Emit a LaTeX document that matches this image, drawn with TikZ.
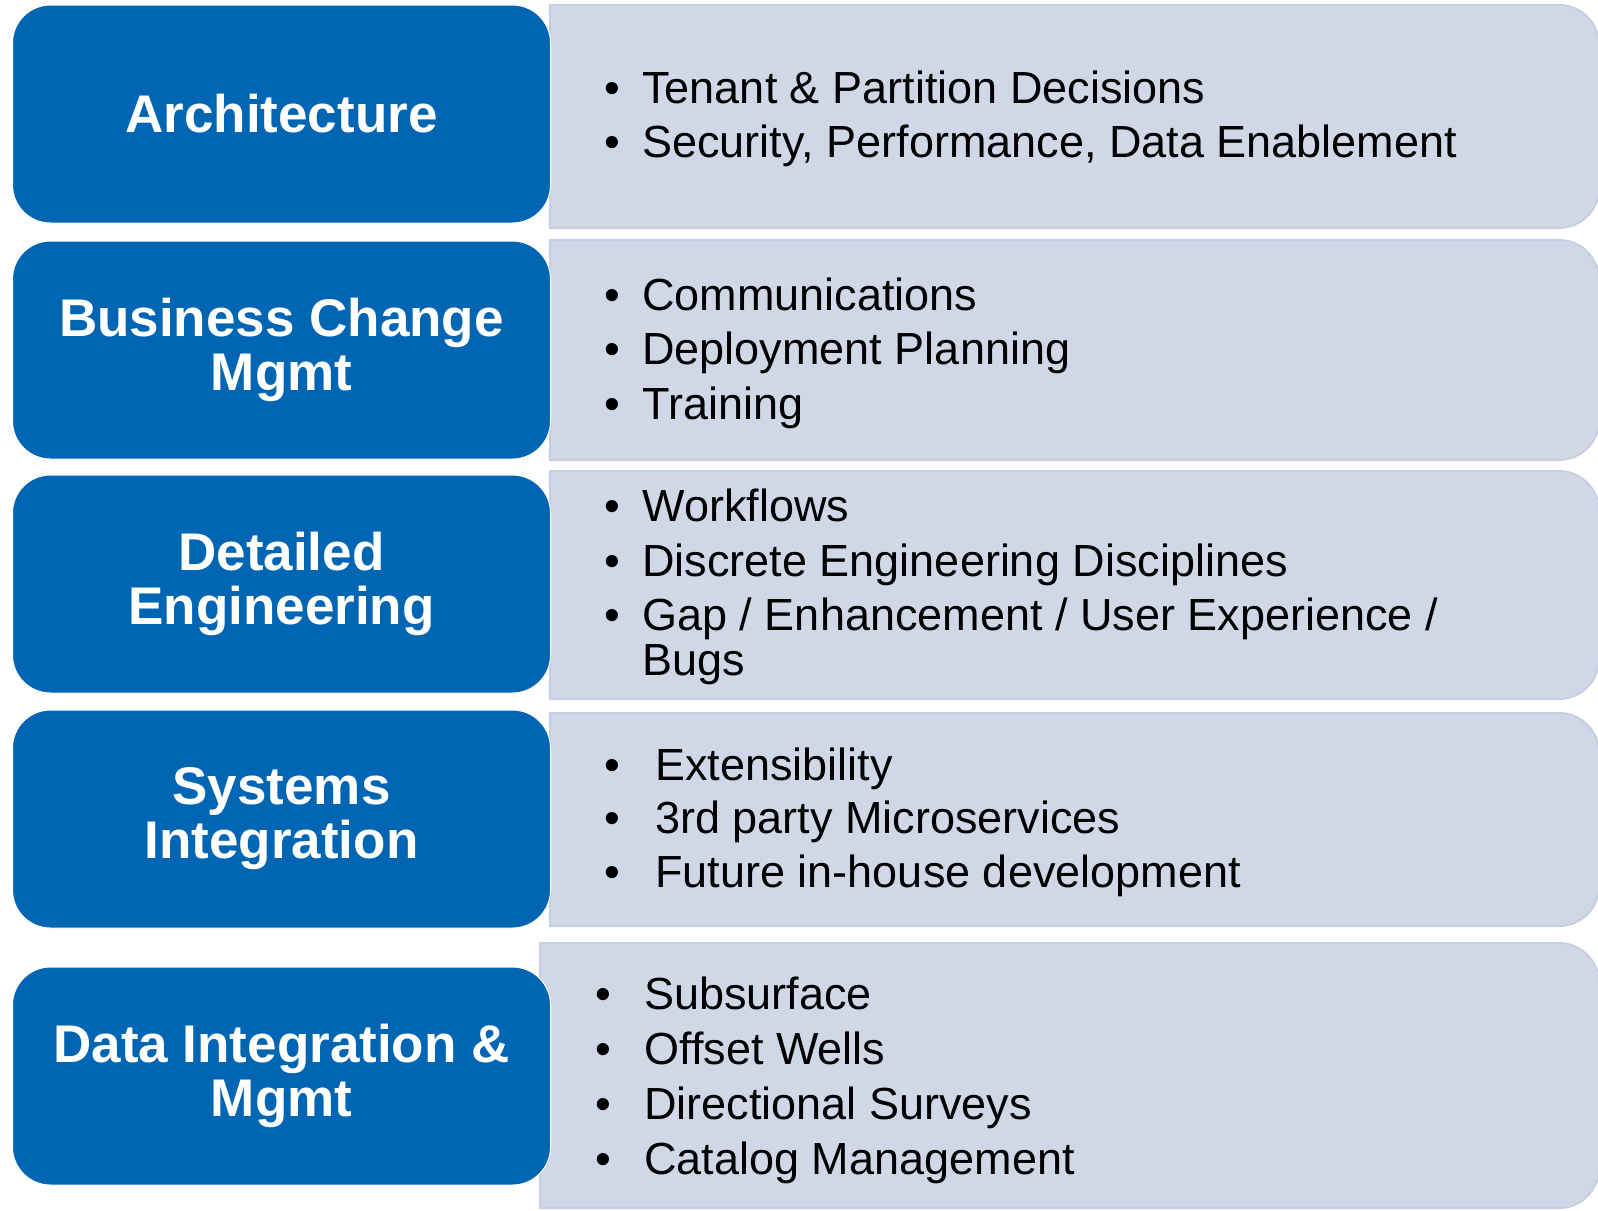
\documentclass[tikz,border=0pt]{standalone}
\usepackage{fontspec}
\setmainfont{Liberation Sans}
\usepackage{tikz}
\definecolor{hdrblue}{RGB}{0,102,179}
\definecolor{panelgrey}{RGB}{208,216,232}
\definecolor{paneledge}{RGB}{198,207,225}
% grey panel: left, top, bottom (pixels), right side rounded
\newcommand{\panel}[3]{%
  \filldraw[panel] (#1,-#2) -- (1559,-#2) arc[start angle=90,end angle=0,radius=20pt]
    -- (1599,-#3+40) arc[start angle=0,end angle=-90,radius=20pt] -- (#1,-#3) -- cycle;}
\newcommand{\bul}[1]{\makebox[#1][l]{\textbullet}}

\begin{document}
\begin{tikzpicture}[x=0.5pt,y=0.5pt,
    panel/.style={fill=panelgrey, draw=paneledge, line width=1pt},
    hdr/.style={rectangle, rounded corners=19pt, fill=hdrblue, draw=white, line width=0.5pt,
      text=white, font=\fontsize{26.5}{27}\selectfont\bfseries, align=center,
      minimum width=269pt, minimum height=109pt, inner sep=0pt},
    item/.style={anchor=base west, inner sep=0pt, font=\fontsize{22.5}{27}\selectfont}]

      \useasboundingbox (0,0) rectangle (1598,-1210);

      \panel{550}{5}{228}
      \panel{550}{240}{460}
      \panel{550}{471}{699}
      \panel{550}{713}{926}
      \panel{540}{943}{1208}

      \node[hdr] (arch) at (281.5,-114) {Architecture};
      \node[hdr] (bcm) at (281.5,-350) {Business Change\\Mgmt};
      \node[hdr] (deteng) at (281.5,-584) {Detailed\\Engineering};
      \node[hdr] (sysint) at (281.5,-819) {Systems\\Integration};
      \node[hdr] (dataint) at (281.5,-1076) {Data Integration \&\\Mgmt};

      \node[item] (arch1) at (604,-103) {\bul{19pt}Tenant \& Partition Decisions};
      \node[item] (arch2) at (604,-157) {\bul{19pt}Security, Performance, Data Enablement};

      \node[item] (bcm1) at (604,-310) {\bul{19pt}Communications};
      \node[item] (bcm2) at (604,-364) {\bul{19pt}Deployment Planning};
      \node[item] (bcm3) at (604,-419) {\bul{19pt}Training};

      \node[item] (deteng1) at (604,-521) {\bul{19pt}Workflows};
      \node[item] (deteng2) at (604,-576) {\bul{19pt}Discrete Engineering Disciplines};
      \node[item] (deteng3) at (604,-630) {\bul{19pt}Gap / Enhancement / User Experience /};
      \node[item] (deteng4) at (642,-675) {Bugs};

      \node[item] (sysint1) at (604,-780) {\bul{25.5pt}Extensibility};
      \node[item] (sysint2) at (604,-833) {\bul{25.5pt}3rd party Microservices};
      \node[item] (sysint3) at (604,-887) {\bul{25.5pt}Future in-house development};

      \node[item] (dataint1) at (595,-1009) {\bul{24.5pt}Subsurface};
      \node[item] (dataint2) at (595,-1064) {\bul{24.5pt}Offset Wells};
      \node[item] (dataint3) at (595,-1119) {\bul{24.5pt}Directional Surveys};
      \node[item] (dataint4) at (595,-1174) {\bul{24.5pt}Catalog Management};
    \end{tikzpicture}
\end{document}
